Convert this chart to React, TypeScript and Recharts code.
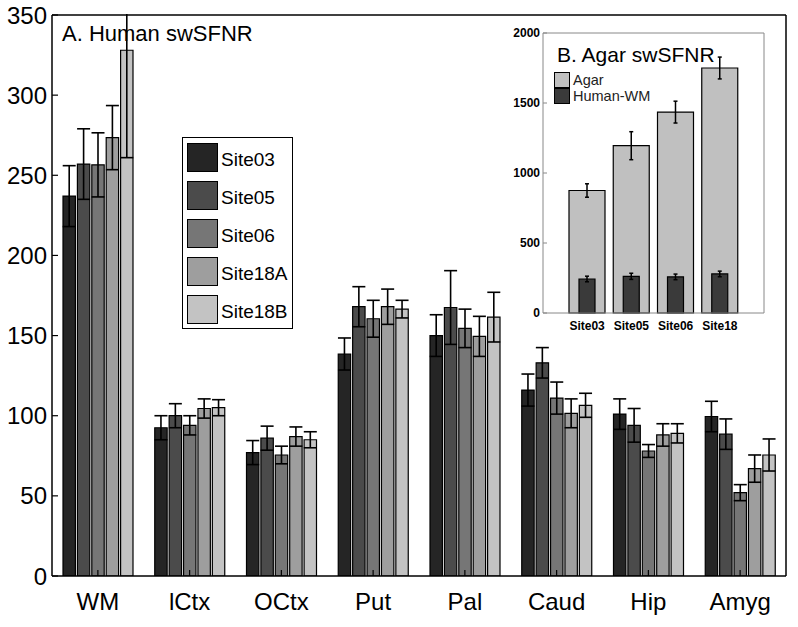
import React from 'react';
import { BarChart, Bar, XAxis, YAxis, ErrorBar, Legend } from 'recharts';

const FONT = '"Liberation Sans", Arial, Helvetica, sans-serif';

// ---- Panel A data ----
const categories = ['WM', 'lCtx', 'OCtx', 'Put', 'Pal', 'Caud', 'Hip', 'Amyg'];
const siteNames = ['Site03', 'Site05', 'Site06', 'Site18A', 'Site18B'];
const siteColors = ['#252525', '#4b4b4b', '#767676', '#9e9e9e', '#c3c3c3'];

const site03 = [237, 92.5, 77, 138.5, 150, 116, 101, 99.5];
const site03Err = [19, 7.5, 7.5, 10, 13, 10, 9.5, 9.5];
const site05 = [257, 100, 86, 168, 167.5, 133, 94, 88.5];
const site05Err = [22, 7.5, 7.5, 12.5, 23, 9.5, 10.5, 9.5];
const site06 = [256.5, 94, 75.5, 160.5, 154.5, 111, 78, 52];
const site06Err = [20, 6, 5.5, 11.5, 12, 10, 4, 5];
const site18A = [273.5, 104.5, 87, 168, 149.5, 101.5, 88, 67];
const site18AErr = [20, 6, 6, 11, 12.5, 9, 7, 8.5];
const site18B = [328, 105, 85, 166.5, 161.5, 106.5, 89, 75.5];
const site18BErr = [67, 5, 5, 5.5, 15.5, 7.5, 6, 10];

const yTicks = [0, 50, 100, 150, 200, 250, 300, 350];

const seriesValues = [site03, site05, site06, site18A, site18B];
const seriesErrors = [site03Err, site05Err, site06Err, site18AErr, site18BErr];

const mainData = categories.map((cat, i) => {
  const row: Record<string, string | number> = { cat };
  seriesValues.forEach((vals, k) => {
    row[`s${k}`] = vals[i];
    row[`e${k}`] = seriesErrors[k][i];
  });
  return row;
});

// ---- Panel B data ----
const insetSites = ['Site03', 'Site05', 'Site06', 'Site18'];
const agarValues = [875, 1195, 1435, 1750];
const agarErr = [48, 100, 78, 78];
const humanWM = [243, 262, 258, 279];
const humanWMErr = [20, 22, 20, 20];
const insetTicks = [0, 500, 1000, 1500, 2000];
const insetSeries = ['Agar', 'Human-WM'];
const insetColors = ['#c0c0c0', '#3a3a3a'];

const insetData = insetSites.map((site, i) => ({
  site,
  agar: agarValues[i],
  agarErr: agarErr[i],
  human: humanWM[i],
  humanErr: humanWMErr[i],
}));

const MainLegend = () => (
  <div
    style={{
      width: 111,
      height: 192,
      border: '1px solid #000',
      background: '#fff',
      boxSizing: 'border-box',
      padding: '5px 0 0 4px',
      fontFamily: FONT,
    }}
  >
    {siteNames.map((n, i) => (
      <div key={n} style={{ display: 'flex', alignItems: 'center', height: 29, marginBottom: 9 }}>
        <div
          style={{
            width: 31,
            height: 29,
            background: siteColors[i],
            border: '1.5px solid #000',
            boxSizing: 'border-box',
            flex: 'none',
          }}
        />
        <span style={{ marginLeft: 3, fontSize: 19, color: '#000', lineHeight: '29px', paddingTop: 3 }}>{n}</span>
      </div>
    ))}
  </div>
);

const InsetLegend = () => (
  <div style={{ fontFamily: FONT }}>
    {insetSeries.map((n, i) => (
      <div key={n} style={{ display: 'flex', alignItems: 'center', height: 16 }}>
        <div
          style={{
            width: 16,
            height: 16,
            background: insetColors[i],
            border: '1px solid #000',
            boxSizing: 'border-box',
            flex: 'none',
          }}
        />
        <span style={{ marginLeft: 3, fontSize: 14.5, color: '#222', lineHeight: '16px' }}>{n}</span>
      </div>
    ))}
  </div>
);

export default function App() {
  return (
    <div
      style={{
        position: 'absolute',
        left: 0,
        top: 0,
        width: 798,
        height: 627,
        background: '#fff',
        fontFamily: FONT,
        overflow: 'hidden',
      }}
    >
      <BarChart
        width={798}
        height={627}
        data={mainData}
        margin={{ top: 14, right: 11, bottom: 0, left: 0 }}
        barGap={2}
      >
        <XAxis
          dataKey="cat"
          height={51}
          interval={0}
          tickSize={-6}
          tickMargin={23}
          axisLine={{ stroke: '#000', strokeWidth: 1.5 }}
          tickLine={{ stroke: '#000', strokeWidth: 1.2 }}
          tick={{ fill: '#000', fontSize: 24, fontFamily: FONT }}
        />
        <XAxis
          xAxisId="top"
          dataKey="cat"
          orientation="top"
          height={1}
          interval={0}
          tickSize={-6}
          tick={false}
          axisLine={{ stroke: '#000', strokeWidth: 1.5 }}
          tickLine={{ stroke: '#000', strokeWidth: 1.2 }}
        />
        <YAxis
          width={52}
          type="number"
          domain={[0, 350]}
          ticks={yTicks}
          allowDataOverflow
          interval={0}
          tickSize={-6}
          tickMargin={11}
          axisLine={{ stroke: '#000', strokeWidth: 1.5 }}
          tickLine={{ stroke: '#000', strokeWidth: 1.2 }}
          tick={{ fill: '#000', fontSize: 24, fontFamily: FONT }}
        />
        <YAxis
          yAxisId="right"
          orientation="right"
          width={1}
          type="number"
          domain={[0, 350]}
          ticks={yTicks}
          interval={0}
          tickSize={-6}
          tick={false}
          axisLine={{ stroke: '#000', strokeWidth: 1.5 }}
          tickLine={{ stroke: '#000', strokeWidth: 1.2 }}
        />
        <Legend
          layout="vertical"
          align="center"
          verticalAlign="middle"
          content={() => <MainLegend />}
          wrapperStyle={{ left: 182, top: 137, width: 111, height: 192 }}
        />
        {siteNames.map((n, k) => (
          <Bar
            key={n}
            name={n}
            dataKey={`s${k}`}
            fill={siteColors[k]}
            stroke="#000"
            strokeWidth={1.2}
            barSize={12.4}
            isAnimationActive={false}
          >
            <ErrorBar dataKey={`e${k}`} width={6.5} stroke="#000" strokeWidth={1.6} isAnimationActive={false} />
          </Bar>
        ))}
      </BarChart>

      {/* mask the part of an error bar that runs past the top of the axes box (the reference clips it) */}
      <div style={{ position: 'absolute', left: 60, top: 0, width: 110, height: 13.5, background: '#fff' }} />

      <div
        style={{
          position: 'absolute',
          left: 62,
          top: 21,
          fontSize: 22,
          color: '#000',
          whiteSpace: 'nowrap',
          fontFamily: FONT,
        }}
      >
        A. Human swSFNR
      </div>

      <div style={{ position: 'absolute', left: 495, top: 22 }}>
        <BarChart
          width={280}
          height={318}
          data={insetData}
          margin={{ top: 10, right: 10, bottom: 0, left: 0 }}
        >
          <XAxis
            xAxisId="a"
            dataKey="site"
            height={27}
            interval={0}
            padding={{ left: 22, right: 22 }}
            tickSize={0}
            tickMargin={8}
            tickLine={false}
            axisLine={{ stroke: '#888' }}
            tick={{ fill: '#000', fontSize: 12, fontWeight: 'bold', fontFamily: FONT }}
          />
          <XAxis xAxisId="h" dataKey="site" hide padding={{ left: 22, right: 22 }} />
          <XAxis
            xAxisId="t"
            dataKey="site"
            orientation="top"
            height={1}
            tick={false}
            tickLine={false}
            axisLine={{ stroke: '#888' }}
          />
          <YAxis
            width={48}
            type="number"
            domain={[0, 2000]}
            ticks={insetTicks}
            interval={0}
            tickSize={-4}
            tickMargin={7}
            axisLine={{ stroke: '#888' }}
            tickLine={{ stroke: '#888' }}
            tick={{ fill: '#000', fontSize: 12, fontWeight: 'bold', fontFamily: FONT }}
          />
          <YAxis
            yAxisId="r"
            orientation="right"
            width={1}
            type="number"
            domain={[0, 2000]}
            ticks={insetTicks}
            interval={0}
            tickSize={-4}
            tick={false}
            axisLine={{ stroke: '#888' }}
            tickLine={{ stroke: '#888' }}
          />
          <Legend
            layout="vertical"
            align="center"
            verticalAlign="middle"
            content={() => <InsetLegend />}
            wrapperStyle={{ left: 59, top: 50, width: 110, height: 32 }}
          />
          <Bar xAxisId="a" dataKey="agar" name="Agar" fill={insetColors[0]} stroke="#000" strokeWidth={1.2} barSize={36} isAnimationActive={false}>
            <ErrorBar dataKey="agarErr" width={2} stroke="#000" strokeWidth={1.5} isAnimationActive={false} />
          </Bar>
          <Bar xAxisId="h" dataKey="human" name="Human-WM" fill={insetColors[1]} stroke="#000" strokeWidth={1.2} barSize={16} isAnimationActive={false}>
            <ErrorBar dataKey="humanErr" width={2} stroke="#000" strokeWidth={1.5} isAnimationActive={false} />
          </Bar>
        </BarChart>
      </div>

      <div
        style={{
          position: 'absolute',
          left: 557,
          top: 43,
          fontSize: 21,
          color: '#000',
          whiteSpace: 'nowrap',
          fontFamily: FONT,
        }}
      >
        B. Agar swSFNR
      </div>
    </div>
  );
}
